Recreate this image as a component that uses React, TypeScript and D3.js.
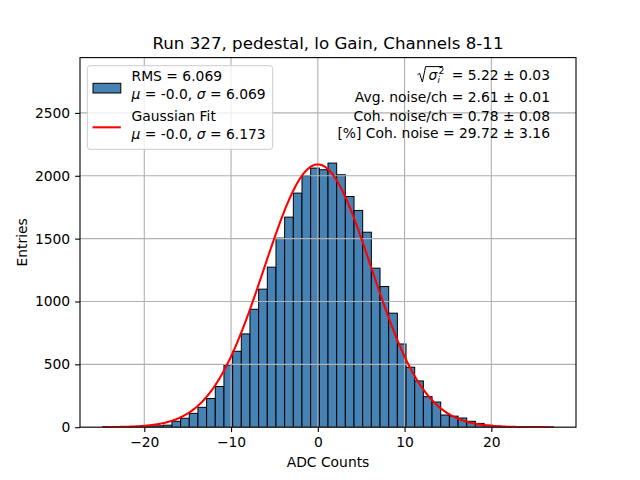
import React, { useEffect, useRef } from 'react';
import * as d3 from 'd3';

// histogram of ADC counts, 52 bins between dataMin and dataMax
const dataMin = -24.81;
const dataMax = 27.16;
const counts = [
    1, 0, 0, 1, 2, 4, 11, 16, 47, 71,
    110, 158, 228, 324, 495, 604, 742, 938, 1098, 1273,
    1504, 1671, 1862, 2000, 2061, 2048, 2101, 2008, 1835, 1724,
    1551, 1265, 1119, 907, 662, 477, 368, 243, 200, 97,
    88, 73, 47, 30, 16, 8, 4, 2, 1, 0,
    0, 1,
];

// gaussian fit parameters
const fitAmp = 2090;
const fitMu = 0;
const fitSigma = 6.173;

const xTicks = [-20, -10, 0, 10, 20];
const yTicks = [0, 500, 1000, 1500, 2000, 2500];

const statLines = [
    ' = 5.22 ± 0.03',
    'Avg. noise/ch = 2.61 ± 0.01',
    'Coh. noise/ch = 0.78 ± 0.08',
    '[%] Coh. noise = 29.72 ± 3.16',
];

const App = () => {
    const svgRef = useRef(null);

    useEffect(() => {
        const svg = d3.select(svgRef.current);
        const width = 640;
        const height = 480;
        const marginTop = 57.6;
        const marginRight = 64;
        const marginBottom = 52.8;
        const marginLeft = 80;
        const fs = 13.89;

        svg.attr('width', width).attr('height', height).selectAll('*').remove();
        svg.append('rect').attr('width', width).attr('height', height).attr('fill', 'white');

        const x = d3.scaleLinear()
            .domain([-27.41, 29.76])
            .range([marginLeft, width - marginRight]);

        const y = d3.scaleLinear()
            .domain([0, 2940])
            .range([height - marginBottom, marginTop]);

        const nBins = counts.length;
        const binW = (dataMax - dataMin) / nBins;
        const bins = counts.map((c, i) => ({ x0: dataMin + i * binW, x1: dataMin + (i + 1) * binW, c }));

        svg.append('defs').append('clipPath').attr('id', 'plot-clip')
            .append('rect')
            .attr('x', marginLeft).attr('y', marginTop)
            .attr('width', width - marginLeft - marginRight)
            .attr('height', height - marginTop - marginBottom);

        const plot = svg.append('g').attr('clip-path', 'url(#plot-clip)');

        plot.selectAll('.bar')
            .data(bins.filter(b => b.c > 0))
            .enter()
            .append('rect')
            .attr('class', 'bar')
            .attr('x', d => x(d.x0))
            .attr('y', d => y(d.c))
            .attr('width', d => x(d.x1) - x(d.x0))
            .attr('height', d => y(0) - y(d.c))
            .attr('fill', '#4682b4')
            .attr('stroke', 'black')
            .attr('stroke-width', 1);

        // grid sits above the bars, below the fit line
        const grid = plot.append('g').attr('stroke', '#b0b0b0').attr('stroke-width', 1.1);
        xTicks.forEach(t => {
            grid.append('line').attr('x1', x(t)).attr('x2', x(t))
                .attr('y1', marginTop).attr('y2', height - marginBottom);
        });
        yTicks.forEach(t => {
            grid.append('line').attr('y1', y(t)).attr('y2', y(t))
                .attr('x1', marginLeft).attr('x2', width - marginRight);
        });

        const xs = d3.range(0, 500).map(i => dataMin + (dataMax - dataMin) * i / 499);
        const gauss = v => fitAmp * Math.exp(-((v - fitMu) ** 2) / (2 * fitSigma * fitSigma));
        plot.append('path')
            .attr('d', d3.line()(xs.map(v => [x(v), y(gauss(v))])))
            .attr('fill', 'none')
            .attr('stroke', 'red')
            .attr('stroke-width', 2.08);

        // axes
        const xAxis = svg.append('g')
            .attr('transform', `translate(0, ${height - marginBottom})`)
            .call(d3.axisBottom(x).tickValues(xTicks).tickSize(4.9).tickPadding(4.9)
                .tickFormat(d => d3.format('d')(d).replace('-', '\u2212')));
        const yAxis = svg.append('g')
            .attr('transform', `translate(${marginLeft}, 0)`)
            .call(d3.axisLeft(y).tickValues(yTicks).tickSize(4.9).tickPadding(4.9).tickFormat(d3.format('d')));
        [xAxis, yAxis].forEach(a => {
            a.select('.domain').remove();
            a.selectAll('line').attr('stroke', 'black').attr('stroke-width', 1.1);
            a.selectAll('text').attr('font-family', 'DejaVu Sans').attr('font-size', fs).attr('fill', 'black');
        });

        svg.append('rect')
            .attr('x', marginLeft).attr('y', marginTop)
            .attr('width', width - marginLeft - marginRight)
            .attr('height', height - marginTop - marginBottom)
            .attr('fill', 'none').attr('stroke', 'black').attr('stroke-width', 1.1);

        const txt = (px, py, s, opts = {}) => svg.append('text')
            .attr('x', px).attr('y', py)
            .attr('font-family', 'DejaVu Sans')
            .attr('font-size', opts.size || fs)
            .attr('text-anchor', opts.anchor || 'start')
            .attr('fill', 'black')
            .text(s);

        txt(328, 49.3, 'Run 327, pedestal, lo Gain, Channels 8-11', { size: 16.67, anchor: 'middle' });
        txt(328, 467, 'ADC Counts', { anchor: 'middle' });
        txt(0, 0, 'Entries', { anchor: 'middle' })
            .attr('transform', 'translate(27, 242.4) rotate(-90)');

        // legend
        svg.append('rect')
            .attr('x', 87.3).attr('y', 65.7).attr('width', 185.4).attr('height', 83.6)
            .attr('rx', 2.8)
            .attr('fill', 'white').attr('fill-opacity', 0.8)
            .attr('stroke', '#cccccc').attr('stroke-width', 1);
        svg.append('rect')
            .attr('x', 93).attr('y', 83.3).attr('width', 27.8).attr('height', 9.7)
            .attr('fill', '#4682b4').attr('stroke', 'black').attr('stroke-width', 1);
        svg.append('line')
            .attr('x1', 92.5).attr('x2', 120.8).attr('y1', 127.3).attr('y2', 127.3)
            .attr('stroke', 'red').attr('stroke-width', 2.08);

        const muSigma = (py, val) => {
            const t = txt(131.5, py, '');
            t.append('tspan').attr('font-style', 'italic').text('μ');
            t.append('tspan').text(' = -0.0, ');
            t.append('tspan').attr('font-style', 'italic').text('σ');
            t.append('tspan').text(` = ${val}`);
        };
        txt(131.5, 81.3, 'RMS = 6.069');
        muSigma(98.5, '6.069');
        txt(131.5, 121.3, 'Gaussian Fit');
        muSigma(138.5, '6.173');

        // stats text, right aligned; sqrt(sigma_i^2) drawn as one text with shifted tspans
        const statY = [80, 101.7, 120.7, 138.3];
        statLines.forEach((s, i) => txt(550, statY[i], s, { anchor: 'end' }).attr('xml:space', 'preserve'));
        svg.append('path')
            .attr('d', 'M417.6,74.6 L419.6,73.4 L422.4,82 L425.6,66.6 L443,66.6')
            .attr('fill', 'none').attr('stroke', 'black').attr('stroke-width', 1);
        const sq = txt(428.6, 80, '');
        sq.append('tspan').attr('font-style', 'italic').text('σ');
        sq.append('tspan').attr('x', 437.4).attr('y', 83.2).attr('font-size', 9.2).attr('font-style', 'italic').text('i');
        sq.append('tspan').attr('x', 438.6).attr('y', 73.6).attr('font-size', 9.2).text('2');
    }, []);

    return <svg ref={svgRef} style={{ position: 'fixed', left: 0, top: 0 }}></svg>;
};

export default App;
